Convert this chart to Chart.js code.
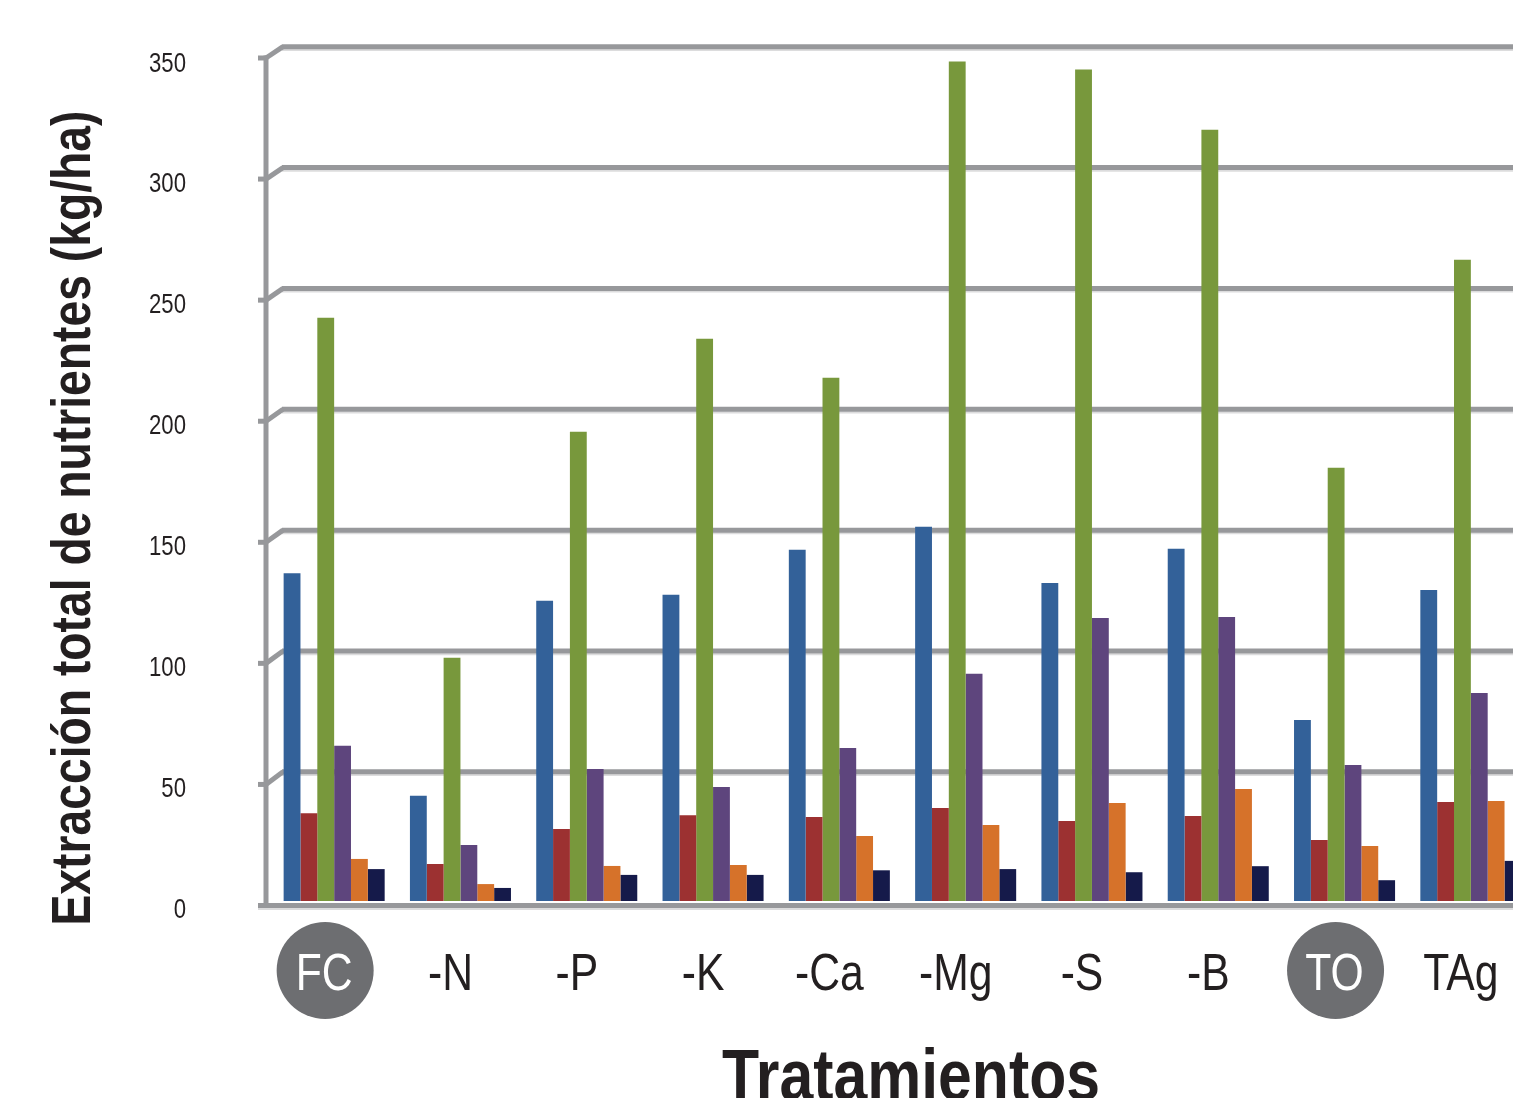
<!DOCTYPE html>
<html>
<head>
<meta charset="utf-8">
<script src="https://cdn.jsdelivr.net/npm/chart.js@4.4.1/dist/chart.umd.min.js"></script>
<style>
  html, body { margin: 0; padding: 0; background: #ffffff; overflow: hidden; width: 1513px; height: 1098px; }
  #wrap { position: absolute; left: 0; top: 0; width: 1540px; height: 1098px; }
  canvas { display: block; }
</style>
</head>
<body>
<div id="wrap"><canvas id="c" width="1540" height="1098"></canvas></div>
<script>
// ---- data ----
const categories = ['FC', '-N', '-P', '-K', '-Ca', '-Mg', '-S', '-B', 'TO', 'TAg'];
const highlighted = ['FC', 'TO'];
const seriesBlue   = [135.6, 43.5, 124.2, 126.7, 145.3, 154.8, 131.6, 145.7, 74.9, 128.7];
const seriesRed    = [36.3, 15.3, 29.8, 35.5, 34.8, 38.5, 33.1, 35.2, 25.2, 41.0];
const seriesGreen  = [241.3, 100.6, 194.1, 232.6, 216.5, 347.3, 344.0, 319.1, 179.2, 265.3];
const seriesPurple = [64.2, 23.2, 54.6, 47.2, 63.3, 94.0, 117.1, 117.5, 56.3, 86.1];
const seriesOrange = [17.4, 7.0, 14.5, 14.9, 26.9, 31.4, 40.5, 46.3, 22.8, 41.4];
const seriesNavy   = [13.2, 5.4, 10.8, 10.8, 12.7, 13.2, 11.9, 14.4, 8.6, 16.6];
const yTicks = [0, 50, 100, 150, 200, 250, 300, 350];
const yTitle = 'Extracción total de nutrientes (kg/ha)';
const xTitle = 'Tratamientos';

const colors = ['#336199', '#9c3131', '#78983c', '#5e457d', '#d6722a', '#151a4a'];
const seriesList = [seriesBlue, seriesRed, seriesGreen, seriesPurple, seriesOrange, seriesNavy];

const GRID = '#97989b';
const GRID_LIGHT = '#dcdcdd';
const TEXT = '#231f20';
const FONT = '"Liberation Sans", Arial, sans-serif';
const NARROW = 0.82;

function narrowText(ctx, text, x, y, font, align, sx, targetWidth) {
  ctx.save();
  ctx.font = font;
  let s = sx;
  if (targetWidth) s = targetWidth / ctx.measureText(text).width;
  ctx.translate(x, y);
  ctx.scale(s, 1);
  ctx.textAlign = align;
  ctx.textBaseline = 'alphabetic';
  ctx.fillText(text, 0, 0);
  ctx.restore();
}

const decor = {
  id: 'decor',
  beforeDatasetsDraw(chart) {
    const ctx = chart.ctx;
    const y = chart.scales.y;
    const right = chart.width;
    const axisX = 266, backX = 282, stubX = 258;
    ctx.save();
    ctx.lineCap = 'butt';
    yTicks.forEach(v => {
      if (v === 0) return;
      const p = y.getPixelForValue(v);
      const yb = p - 8.3;
      const yf = p + 3 + 1.5 * (1 - v / 350);
      ctx.strokeStyle = GRID_LIGHT; ctx.lineWidth = 2;
      ctx.beginPath(); ctx.moveTo(backX, yb + 3.2); ctx.lineTo(right, yb + 3.2); ctx.stroke();
      ctx.strokeStyle = GRID; ctx.lineWidth = 5;
      ctx.beginPath(); ctx.moveTo(backX, yb); ctx.lineTo(right, yb); ctx.stroke();
      ctx.beginPath(); ctx.moveTo(axisX, yf); ctx.lineTo(backX + 1, yb); ctx.stroke();
      ctx.beginPath(); ctx.moveTo(stubX, yf); ctx.lineTo(axisX, yf); ctx.stroke();
    });
    const p0 = y.getPixelForValue(0) + 4.5;
    ctx.strokeStyle = GRID_LIGHT; ctx.lineWidth = 2;
    ctx.beginPath(); ctx.moveTo(stubX, p0 + 3.5); ctx.lineTo(right, p0 + 3.5); ctx.stroke();
    ctx.strokeStyle = GRID; ctx.lineWidth = 5;
    ctx.beginPath(); ctx.moveTo(stubX, p0); ctx.lineTo(right, p0); ctx.stroke();
    const pTop = y.getPixelForValue(350) + 3 - 2.5;
    ctx.beginPath(); ctx.moveTo(axisX, pTop); ctx.lineTo(axisX, p0 + 2.5); ctx.stroke();
    ctx.restore();
  },
  afterDraw(chart) {
    const ctx = chart.ctx;
    const x = chart.scales.x;
    const y = chart.scales.y;
    ctx.save();
    // y tick labels
    ctx.fillStyle = TEXT;
    yTicks.forEach(v => {
      narrowText(ctx, String(v), 186, y.getPixelForValue(v) + 16.5, '27px ' + FONT, 'right', NARROW);
    });
    // category labels
    categories.forEach((c, i) => {
      const cx = x.getPixelForValue(i) - 10;
      if (highlighted.includes(c)) {
        ctx.fillStyle = '#6d6e71';
        ctx.beginPath(); ctx.arc(cx + 1, 970.5, 48.5, 0, Math.PI * 2); ctx.fill();
        ctx.fillStyle = '#ffffff';
      } else {
        ctx.fillStyle = TEXT;
      }
      narrowText(ctx, c, cx, 990, '52px ' + FONT, 'center', NARROW);
    });
    // x title
    ctx.fillStyle = TEXT;
    narrowText(ctx, xTitle, 911, 1100, 'bold 73px ' + FONT, 'center', NARROW, 378);
    // y title
    ctx.save();
    ctx.translate(90, 518);
    ctx.rotate(-Math.PI / 2);
    narrowText(ctx, yTitle, 0, 0, 'bold 56px ' + FONT, 'center', NARROW, 815);
    ctx.restore();
    ctx.restore();
  }
};

new Chart(document.getElementById('c'), {
  type: 'bar',
  data: {
    labels: categories,
    datasets: seriesList.map((s, i) => ({
      data: s,
      backgroundColor: colors[i],
      borderWidth: 0,
      categoryPercentage: 0.8,
      barPercentage: 1.0
    }))
  },
  options: {
    responsive: false,
    animation: false,
    devicePixelRatio: 1,
    layout: { padding: { left: 271, top: 55, right: 6, bottom: 197 } },
    plugins: { legend: { display: false }, tooltip: { enabled: false } },
    scales: {
      x: { display: false, offset: true },
      y: { display: false, min: 0, max: 350 }
    }
  },
  plugins: [decor]
});
</script>
</body>
</html>
